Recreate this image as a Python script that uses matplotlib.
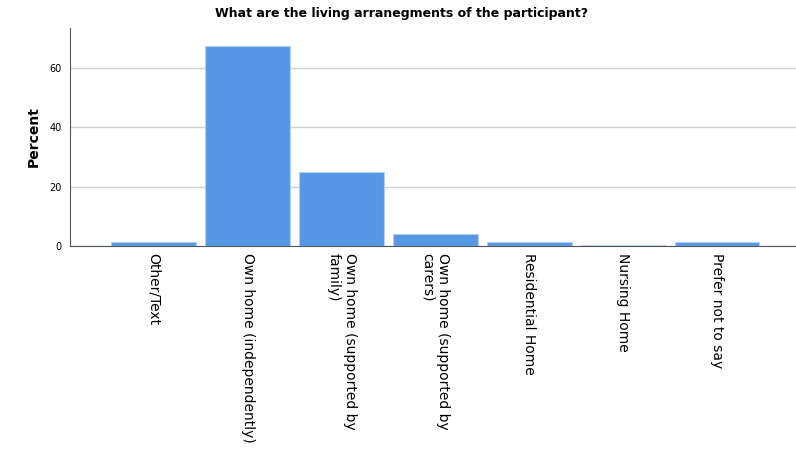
import matplotlib.pyplot as plt

categories = ['Other/Text', 'Own home (independently)', 'Own home (supported by\nfamily)',
              'Own home (supported by\ncarers)', 'Residential Home', 'Nursing Home', 'Prefer not to say']
percent = [1.5, 67.3, 24.8, 3.9, 1.2, 0.4, 1.2]
yticks = [0, 20, 40, 60]

fig = plt.figure(figsize=(7.96, 4.59), dpi=100)
ax = fig.add_axes([0.088, 0.464, 0.912, 0.475])

x = range(len(categories))
ax.bar(x, percent, width=0.9, color='#5596e5', edgecolor='#b5d0f2', linewidth=0.8, zorder=3)

ax.set_xlim(-0.89, 6.84)
ax.set_ylim(0, 73.5)
ax.set_yticks(yticks)
ax.set_yticklabels([str(v) for v in yticks], fontsize=7)
ax.set_xticks(list(x))
ax.set_xticklabels(categories, rotation=270, fontsize=10, ha='center', va='top',
                   multialignment='left')
ax.tick_params(length=0, pad=5)
ax.tick_params(axis='y', pad=6)

ax.yaxis.grid(True, color='#cfcfcf', linewidth=1, zorder=0)
ax.spines['top'].set_visible(False)
ax.spines['right'].set_visible(False)
ax.spines['left'].set_color('#555555')
ax.spines['bottom'].set_color('#555555')

ax.set_ylabel('Percent', fontsize=10, fontweight='bold', labelpad=6)
fig.suptitle('What are the living arranegments of the participant?', x=0.505, y=0.985,
             fontsize=9, fontweight='bold')

fig.savefig('out.png', dpi=100)
